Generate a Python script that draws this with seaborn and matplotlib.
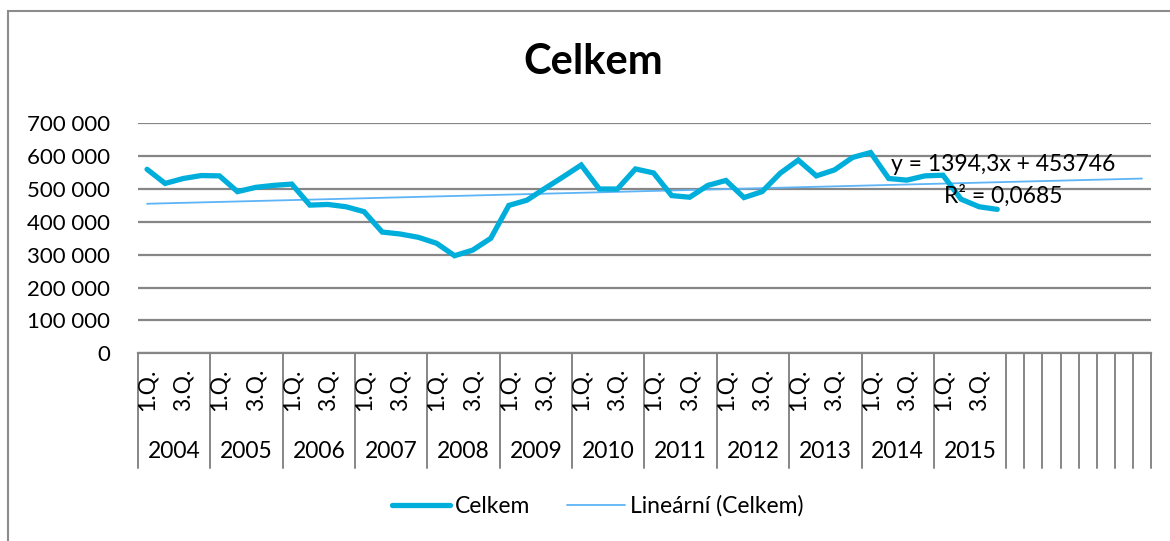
import matplotlib.pyplot as plt
import matplotlib.transforms as mtransforms
from matplotlib.patches import Rectangle
from matplotlib.lines import Line2D
import pandas as pd
import seaborn as sns


# Quarterly values 2004 - 2015
years = ['2004', '2005', '2006', '2007', '2008', '2009',
         '2010', '2011', '2012', '2013', '2014', '2015']
quarters = ['1.Q.', '2.Q.', '3.Q.', '4.Q.']
celkem = [560000, 517000, 532000, 541000, 540000, 492000, 505000, 511000,
          515000, 451000, 453000, 446000, 431000, 369000, 363000, 353000,
          335000, 297000, 314000, 350000, 450000, 466000, 502000, 537000,
          573000, 500000, 500000, 561000, 549000, 480000, 475000, 511000,
          526000, 474000, 492000, 548000, 588000, 540000, 558000, 596000,
          611000, 532000, 527000, 540000, 542000, 469000, 446000, 438000]
n_empty = 8  # empty category slots the trendline runs over

# Excel linear trendline
slope = 1394.3
intercept = 453746
r_squared = '0,0685'

blue = '#00AEDB'
trend_blue = '#5DB4F7'
grid_grey = '#868686'


def thousands(v, pos=None):
    return '{:,.0f}'.format(v).replace(',', ' ')


def main():
    sns.set_style('white')
    plt.rcParams['font.family'] = ['Lato', 'DejaVu Sans']
    plt.rcParams['text.color'] = 'black'
    plt.rcParams['ytick.color'] = 'black'
    plt.rcParams['ytick.labelcolor'] = 'black'

    n_total = len(celkem) + n_empty
    data = pd.DataFrame({'x': range(len(celkem)), 'Celkem': celkem})
    trend = pd.DataFrame({'x': range(n_total)})
    trend['y'] = slope * (trend['x'] + 1) + intercept

    fig = plt.figure(figsize=(11.7, 5.41), dpi=100)
    W, H = 1170, 541
    left, right, top, bottom = 138, 1151, 123.3, 353.3
    ax = fig.add_axes([left / W, 1 - bottom / H, (right - left) / W, (bottom - top) / H])

    sns.lineplot(data=trend, x='x', y='y', ax=ax, color=trend_blue, lw=1.3, zorder=3)
    sns.lineplot(data=data, x='x', y='Celkem', ax=ax, color=blue, lw=3.8,
                 zorder=4, solid_joinstyle='miter')

    ax.set_xlim(-0.5, n_total - 0.5)
    ax.set_ylim(0, 700000)
    ax.set_yticks(range(0, 700001, 100000))
    ax.yaxis.set_major_formatter(plt.FuncFormatter(thousands))
    ax.tick_params(axis='y', length=0, pad=20, labelsize=16, labelcolor='black')
    ax.set_xticks([])
    ax.set_xlabel('')
    ax.set_ylabel('')
    ax.grid(axis='y', color=grid_grey, lw=1.6)
    for s in ['left', 'right', 'top']:
        ax.spines[s].set_visible(False)
    ax.spines['bottom'].set_color(grid_grey)
    ax.spines['bottom'].set_linewidth(1.6)

    # multi-level category axis
    trans = mtransforms.blended_transform_factory(ax.transData, ax.transAxes)
    sep_bottom = -115 / (bottom - top)
    seps = [i * 4 - 0.5 for i in range(len(years) + 1)] + \
           [len(celkem) + k + 0.5 for k in range(n_empty)]
    for s in seps:
        ax.plot([s, s], [0, sep_bottom], transform=trans, color=grid_grey,
                lw=1.4, clip_on=False)
    for i in range(len(celkem)):
        q = quarters[i % 4]
        if q in ('1.Q.', '3.Q.'):
            ax.text(i, -15 / (bottom - top), q, transform=trans, rotation=90,
                    ha='center', va='top', fontsize=16.5)
    for k, yr in enumerate(years):
        ax.text(k * 4 + 1.5, -98 / (bottom - top), yr, transform=trans,
                ha='center', va='center', fontsize=16.5)

    # trendline equation
    ax.text(0.854, 0.823, 'y = 1394,3x + 453746', transform=ax.transAxes,
            ha='center', va='center', fontsize=16.5, zorder=5)
    ax.text(0.854, 0.683, 'R² = ' + r_squared, transform=ax.transAxes,
            ha='center', va='center', fontsize=16.5, zorder=5)

    fig.text(593 / W, 1 - 62 / H, 'Celkem', ha='center', va='center',
             fontsize=30, fontweight='bold', color='black')

    handles = [Line2D([], [], color=blue, lw=3.8, solid_capstyle='round'),
               Line2D([], [], color=trend_blue, lw=1.3)]
    fig.legend(handles, ['Celkem', 'Lineární (Celkem)'], loc='center',
               bbox_to_anchor=(598 / W, 1 - 506 / H), ncol=2, frameon=False,
               fontsize=16.5, handlelength=2.5, handletextpad=0.25,
               columnspacing=1.6)

    # chart area border
    fig.patches.append(Rectangle((8 / W, -0.1), 1.2, 1.1 - 11 / H,
                                 transform=fig.transFigure, fill=False,
                                 edgecolor='#8C8C8C', lw=1.5))

    fig.savefig('out.png', dpi=100, facecolor='white')


if __name__ == '__main__':
    main()
